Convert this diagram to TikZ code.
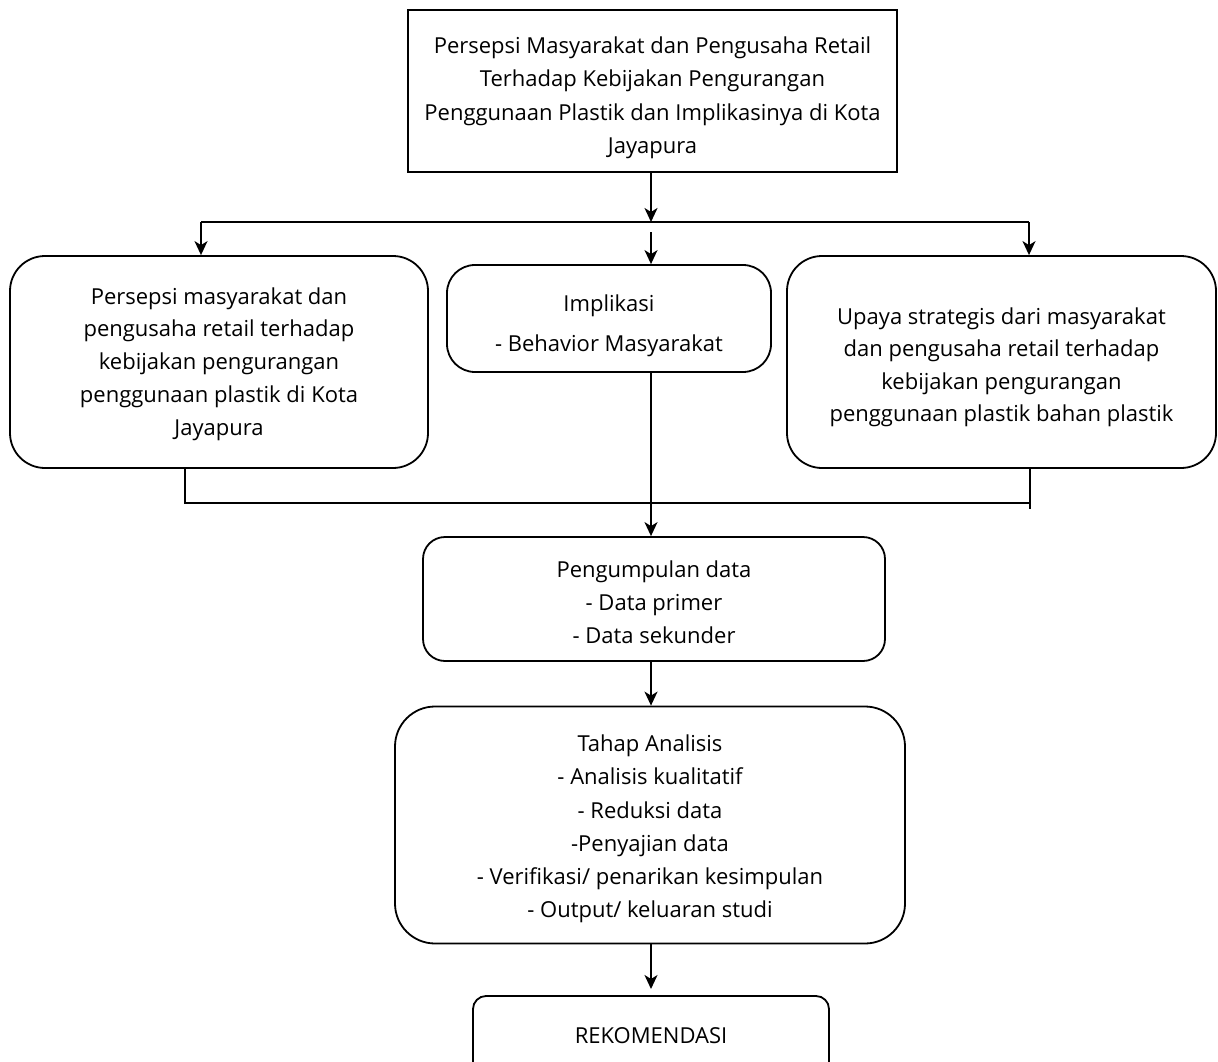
\documentclass[tikz,border=0pt]{standalone}
\usepackage{fontspec}
\setmainfont{Open Sans}
\usetikzlibrary{arrows.meta}
\newcommand{\mlines}[3]{\raisebox{#1}[0pt][0pt]{\fontsize{22}{#2}\selectfont\begin{tabular}[t]{@{}c@{}}#3\end{tabular}}}
\begin{document}
\begin{tikzpicture}[x=1pt,y=-1pt,
  every node/.style={align=center, inner sep=0pt},
  box/.style={draw, line width=1.8pt},
  rbox/.style={draw, line width=1.8pt},
  conn/.style={line width=1.8pt},
  arr/.style={conn, -{Stealth[length=14pt,width=13pt,inset=4pt]}}]
\clip (0,0) rectangle (1218,1062);
\fill[white] (0,0) rectangle (1218,1062);
\node[box, minimum width=489pt, minimum height=162pt] (top) at (652.5,91)
  {\mlines{37.5pt}{33.3pt}{Persepsi Masyarakat dan Pengusaha Retail\\Terhadap Kebijakan Pengurangan\\Penggunaan Plastik dan Implikasinya di Kota\\Jayapura}};
\node[rbox, rounded corners=35pt, minimum width=418pt, minimum height=212pt] (left) at (219,362)
  {\mlines{58pt}{32.75pt}{Persepsi masyarakat dan\\pengusaha retail terhadap\\kebijakan pengurangan\\penggunaan plastik di Kota\\Jayapura}};
\node[rbox, rounded corners=28pt, minimum width=324pt, minimum height=107pt] (mid) at (609,318.5)
  {\mlines{6.8pt}{40pt}{Implikasi\\- Behavior Masyarakat}};
\node[rbox, rounded corners=35pt, minimum width=429pt, minimum height=212pt] (right) at (1001.5,362)
  {\mlines{38pt}{32.6pt}{Upaya strategis dari masyarakat\\dan pengusaha retail terhadap\\kebijakan pengurangan\\penggunaan plastik bahan plastik}};
\node[rbox, rounded corners=22pt, minimum width=462pt, minimum height=124pt] (peng) at (654,599)
  {\mlines{22pt}{33pt}{Pengumpulan data\\- Data primer\\- Data sekunder}};
\node[rbox, rounded corners=40pt, minimum width=510pt, minimum height=237pt] (tahap) at (650,825)
  {\mlines{73.3pt}{33.2pt}{Tahap Analisis\\- Analisis kualitatif\\- Reduksi data\\-Penyajian data\\- Verifikasi/ penarikan kesimpulan\\- Output/ keluaran studi}};
\node[rbox, rounded corners=13pt, minimum width=356pt, minimum height=94pt] (rek) at (651,1043)
  {\mlines{0pt}{33pt}{REKOMENDASI}};
\coordinate (j1) at (651,222);
\coordinate (hl) at (201,222);
\coordinate (hr) at (1029,222);
\coordinate (m1) at (651,232);
\coordinate (bl) at (185,503);
\coordinate (br) at (1030,503);
\coordinate (brend) at (1030,509);
\coordinate (mx) at (651,0);
\coordinate (rtip) at (651,989);
\draw[arr] (top.south -| j1) -- (j1);
\draw[conn] (hl) -- (hr);
\draw[arr] (hl) -- (hl |- left.north);
\draw[arr] (m1) -- (m1 |- mid.north);
\draw[arr] (hr) -- (hr |- right.north);
\draw[conn] (bl |- left.south) -- (bl) -- (br);
\draw[conn] (br |- right.south) -- (brend);
\draw[arr] (mx |- mid.south) -- (mx |- peng.north);
\draw[arr] (mx |- peng.south) -- (mx |- tahap.north);
\draw[arr] (mx |- tahap.south) -- (rtip);
\end{tikzpicture}
\end{document}
